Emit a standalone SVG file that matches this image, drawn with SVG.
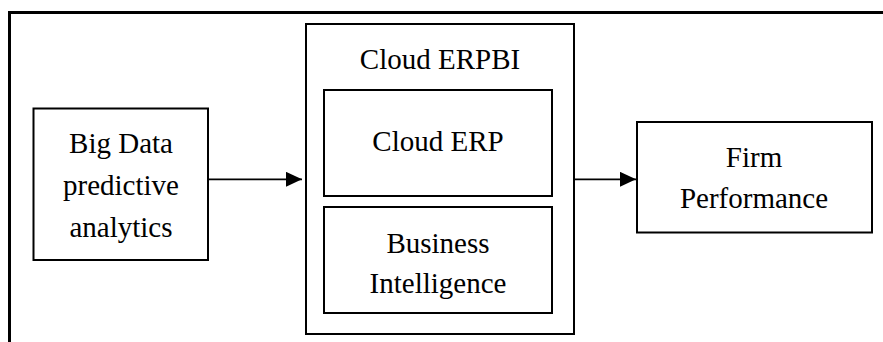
<svg xmlns="http://www.w3.org/2000/svg" width="883" height="342" viewBox="0 0 883 342">
<style>
.box{fill:#fff;stroke:#000;stroke-width:2}
.t{font-family:"Liberation Serif","Times New Roman",serif;font-size:29px;fill:#000;text-anchor:middle}
.c{stroke:#000;stroke-width:1.8;fill:none}
</style>
<defs>
<marker id="ah" markerUnits="userSpaceOnUse" markerWidth="16" markerHeight="15" refX="16" refY="7.5" orient="auto">
<path d="M0,0 L16,7.5 L0,15 Z" fill="#000"/>
</marker>
</defs>
<rect width="883" height="342" fill="#fff"/>
<path d="M9.5,342 V12.5 H883" fill="none" stroke="#000" stroke-width="3"/>
<g id="big-data">
<rect class="box" x="33.5" y="108.5" width="174.5" height="151.5"/>
<text class="t" x="121" y="153">Big Data</text>
<text class="t" x="121" y="195">predictive</text>
<text class="t" x="121" y="236.5">analytics</text>
</g>
<g id="cloud-erpbi">
<rect class="box" x="306" y="24" width="268" height="310"/>
<text class="t" x="440" y="69.3">Cloud ERPBI</text>
</g>
<g id="cloud-erp">
<rect class="box" x="324" y="90" width="228" height="106"/>
<text class="t" x="438" y="151">Cloud ERP</text>
</g>
<g id="business-intelligence">
<rect class="box" x="324" y="207" width="228" height="106"/>
<text class="t" x="438" y="252.7">Business</text>
<text class="t" x="438" y="293.3">Intelligence</text>
</g>
<g id="firm-performance">
<rect class="box" x="637" y="122" width="235" height="110.5"/>
<text class="t" x="754" y="166.7">Firm</text>
<text class="t" x="754" y="208.3">Performance</text>
</g>
<g id="connectors">
<line class="c" x1="208" y1="179.3" x2="302" y2="179.3" marker-end="url(#ah)"/>
<line class="c" x1="574" y1="179.3" x2="636" y2="179.3" marker-end="url(#ah)"/>
</g>
</svg>
